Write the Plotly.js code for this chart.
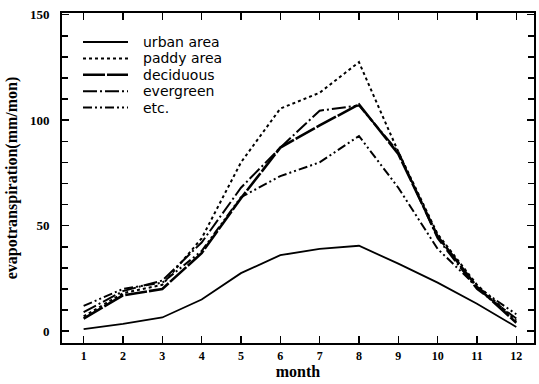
<!DOCTYPE html>
<html>
<head>
<meta charset="utf-8">
<script src="https://cdn.plot.ly/plotly-3.0.1.min.js"></script>
<style>html,body{margin:0;padding:0;background:#fff;}#chart{width:539px;height:384px;}</style>
</head>
<body>
<div id="chart"></div>
<script>
const months = [1,2,3,4,5,6,7,8,9,10,11,12];
const monthLabels = ["1","2","3","4","5","6","7","8","9","10","11","12"];
const urbanArea = [1, 3.5, 6.5, 15, 27.5, 36, 39, 40.5, 32, 23, 13, 2];
const paddyArea = [7, 18, 22, 44, 80, 105.5, 113, 127.5, 85, 46, 22, 5];
const deciduous = [6, 17, 20, 37, 63, 87, 97.5, 107.5, 84, 45, 21, 4];
const evergreen = [9, 19, 24, 42, 68, 87, 104.5, 107, 85, 44, 20, 6];
const etc = [12, 20, 23, 38, 63.5, 73.5, 80, 92.5, 68, 39, 21, 8];
const seriesNames = ["urban area", "paddy area", "deciduous", "evergreen", "etc."];
const yTickVals = [0, 50, 100, 150];

const seriesValues = [urbanArea, paddyArea, deciduous, evergreen, etc];
const styles = [
  {dash: "solid", width: 1.8},
  {dash: "3px,3px", width: 2},
  {dash: "22px,2px", width: 2.6},
  {dash: "14px,3px,2px,3px", width: 2},
  {dash: "9px,3px,2px,3px,2px,3px", width: 2}
];

const traces = seriesValues.map((vals, i) => ({
  x: months, y: vals, name: seriesNames[i], type: "scatter", mode: "lines",
  showlegend: false,
  line: {color: "#000", width: styles[i].width, dash: styles[i].dash}
}));

// Legend drawn in plot-area (paper) fractions
const plotH = 330, plotW = 472;
const legTop = 42, legStep = 16.4;
const shapes = [], annotations = [];
seriesNames.forEach((name, i) => {
  const yp = (plotH - (legTop - 13) - legStep * i) / plotH;
  shapes.push({type: "line", xref: "paper", yref: "paper",
    x0: 21 / plotW, x1: 66 / plotW, y0: yp, y1: yp,
    line: {color: "#000", width: styles[i].width, dash: styles[i].dash}});
  annotations.push({xref: "paper", yref: "paper", x: 79 / plotW, y: yp,
    xanchor: "left", yanchor: "middle", showarrow: false, text: name,
    font: {family: "DejaVu Sans", size: 14, color: "#000"}});
});

const layout = {
  width: 539, height: 384,
  margin: {l: 62, r: 5, t: 13, b: 41},
  paper_bgcolor: "#fff", plot_bgcolor: "#fff",
  showlegend: false,
  shapes: shapes, annotations: annotations,
  xaxis: {
    range: [0.45, 12.45], tickvals: months, ticktext: monthLabels,
    showgrid: false, zeroline: false, showline: true, mirror: "ticks",
    linecolor: "#000", linewidth: 2, ticks: "inside", ticklen: 7, tickwidth: 1.5, tickcolor: "#000",
    ticklabelstandoff: 1,
    tickfont: {family: "Liberation Serif", size: 12, color: "#000", weight: "bold"},
    title: {text: "month", font: {family: "Liberation Serif", size: 16, color: "#000", weight: "bold"}, standoff: 3}
  },
  yaxis: {
    range: [-5.6, 150.8], tickvals: yTickVals,
    showgrid: false, zeroline: false, showline: true, mirror: "ticks",
    linecolor: "#000", linewidth: 2, ticks: "inside", ticklen: 7, tickwidth: 1.5, tickcolor: "#000",
    minor: {dtick: 10, ticks: "inside", ticklen: 6, tickwidth: 1.5, tickcolor: "#000", showgrid: false},
    ticklabelstandoff: 8,
    tickfont: {family: "Liberation Serif", size: 13, color: "#000", weight: "bold"},
    title: {text: "evapotranspiration(mm/mon)", font: {family: "Liberation Serif", size: 16, color: "#000", weight: "bold"}, standoff: 8}
  }
};

Plotly.newPlot("chart", traces, layout, {displayModeBar: false, staticPlot: true});
</script>
</body>
</html>
